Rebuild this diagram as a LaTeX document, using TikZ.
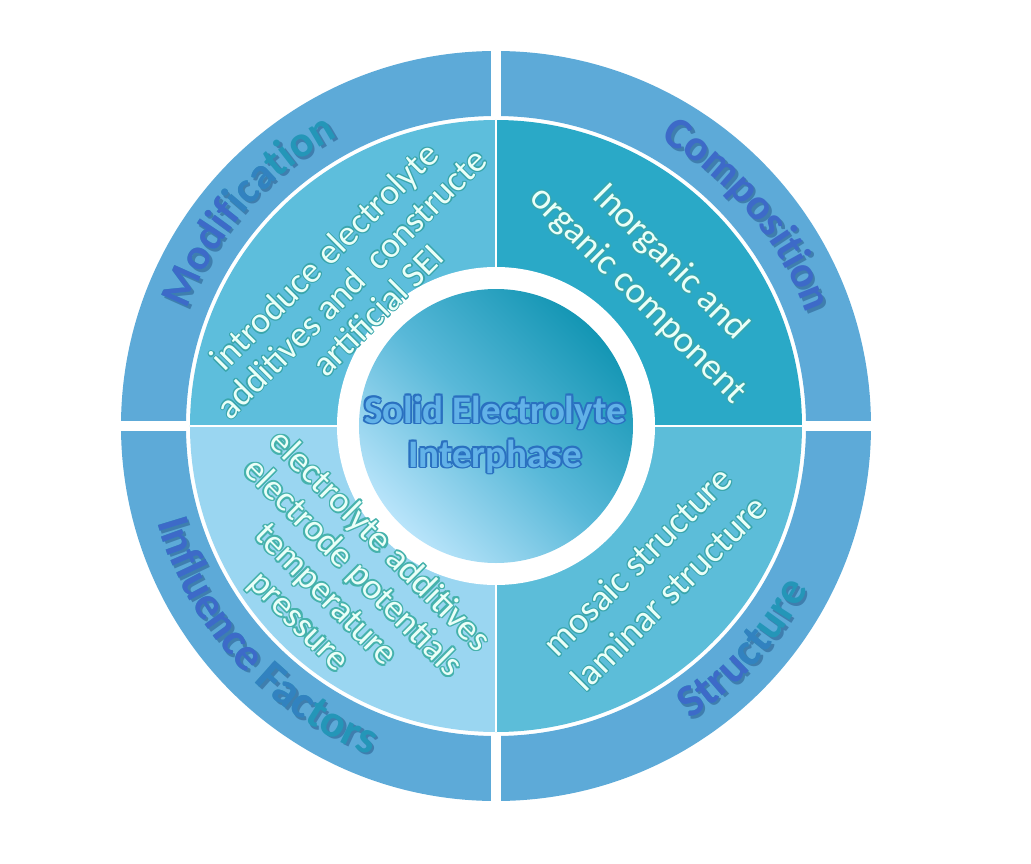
\documentclass[tikz,border=0pt]{standalone}
\usepackage{fontspec}
\setmainfont{Carlito}
\usetikzlibrary{decorations.text}
\definecolor{ringc}{HTML}{5DAAD8}
\definecolor{qtl}{HTML}{5DBEDC}
\definecolor{qtr}{HTML}{2AA9C7}
\definecolor{qbr}{HTML}{5CBDD9}
\definecolor{qbl}{HTML}{9AD6F1}
\definecolor{gdark}{HTML}{1496B4}
\definecolor{gmid}{HTML}{58B8D8}
\definecolor{glight}{HTML}{B8E4FA}
\definecolor{cblue}{HTML}{3D6AC8}
\definecolor{cmid}{HTML}{3282C0}
\definecolor{cteal}{HTML}{2496B8}
\definecolor{shadowc}{HTML}{3F7EAE}
\definecolor{itfill}{HTML}{EAFFF8}
\definecolor{itline}{HTML}{3AA6AC}
\definecolor{itlineb}{HTML}{45B2AC}
\definecolor{ctfill}{HTML}{62B2E8}
\definecolor{ctline}{HTML}{2A70C0}
\newcommand\ringfont{\fontsize{44}{44}\selectfont\bfseries}
\newcommand\ringfontb{\fontsize{46}{46}\selectfont\bfseries}
\tikzset{olab/.style={align=center, inner sep=0pt}}
\newcommand\olabel[7]{%
  \foreach \a in {0,45,...,315}{\node[olab,#3,text=#4,shift={(\a:#6)}] at #2 {#7};}
  \node[olab,#3,text=#5] (#1) at #2 {#7};}
% curved text: #1 font, #2 colour, #3 start angle, #4 end angle, #5 radius, #6 text
\newcommand\ctext[6]{\path[decorate, decoration={text along path, text align=center, text={|#1\color{#2}|#6}}] (#3:#5) arc[start angle=#3,end angle=#4,radius=#5];}
\newcommand\sector[2]{\clip (0,0) -- (#1:420) arc[start angle=#1,end angle=#2,radius=420] -- cycle;}
\begin{document}
\begin{tikzpicture}[x=1pt,y=1pt]
\useasboundingbox (-496,-437) rectangle (535,426);
\fill[white] (-496,-437) rectangle (535,426);
% outer ring
\fill[ringc, even odd rule] (0,0) circle[radius=375] (0,0) circle[radius=310];
\fill[white] (-5,-380) rectangle (5,380);
\fill[white] (-380,-5) rectangle (380,5);
% inner quadrants
\fill[qtr] (0,0) -- (306,0) arc[start angle=0,end angle=90,radius=306] -- cycle;
\fill[qtl] (0,0) -- (0,306) arc[start angle=90,end angle=180,radius=306] -- cycle;
\fill[qbl] (0,0) -- (-306,0) arc[start angle=180,end angle=270,radius=306] -- cycle;
\fill[qbr] (0,0) -- (0,-306) arc[start angle=270,end angle=360,radius=306] -- cycle;
\draw[white, line width=1.5] (0,-306) -- (0,306);
\draw[white, line width=1.5] (-306,0) -- (306,0);
% centre
\fill[white] (0,0) circle[radius=159];
\shade[top color=glight, bottom color=gdark, middle color=gmid, shading angle=135] (0,0) circle[radius=137];
% curved labels: shadows
\begin{scope}[shift={(2.5,-2.5)}]
\ctext{\ringfont}{shadowc}{182}{96}{330}{Modification}
\ctext{\ringfont}{shadowc}{85}{-5}{330}{Composition}
\ctext{\ringfontb}{shadowc}{177.5}{267.5}{352}{Influence Factors}
\ctext{\ringfontb}{shadowc}{-87}{3}{352}{Structure}
\end{scope}
% curved labels
\ctext{\ringfont}{cteal}{182}{96}{330}{Modification}
\begin{scope}\sector{140.3}{175}\ctext{\ringfont}{cblue}{182}{96}{330}{Modification}\end{scope}
\begin{scope}\sector{131.5}{140.3}\ctext{\ringfont}{cmid}{182}{96}{330}{Modification}\end{scope}
\ctext{\ringfont}{cblue}{85}{-5}{330}{Composition}
\ctext{\ringfontb}{cteal}{177.5}{267.5}{352}{Influence Factors}
\begin{scope}\sector{185}{226.5}\ctext{\ringfontb}{cblue}{177.5}{267.5}{352}{Influence Factors}\end{scope}
\begin{scope}\sector{226.5}{236.8}\ctext{\ringfontb}{cmid}{177.5}{267.5}{352}{Influence Factors}\end{scope}
\ctext{\ringfontb}{cteal}{-87}{3}{352}{Structure}
\begin{scope}\sector{-65}{-43.7}\ctext{\ringfontb}{cblue}{-87}{3}{352}{Structure}\end{scope}
\begin{scope}\sector{-43.7}{-38}\ctext{\ringfontb}{cmid}{-87}{3}{352}{Structure}\end{scope}
% inner texts
\olabel{tl}{(-145,143)}{rotate=45,font=\fontsize{36}{38}\selectfont}{itline}{itfill}{1.2}{introduce electrolyte\\additives and\ \ constructe\\artificial SEI}
\olabel{tr}{(158,147)}{rotate=-45,font=\fontsize{37}{46}\selectfont}{itline}{itfill}{1.2}{Inorganic and\\organic component}
\olabel{bl}{(-157,-156)}{rotate=-45,font=\fontsize{36}{38}\selectfont}{itlineb}{itfill}{1.7}{electrolyte additives\\electrode potentials\\temperature\\pressure}
\olabel{br}{(157,-151)}{rotate=45,font=\fontsize{37}{45}\selectfont}{itline}{itfill}{1.2}{mosaic structure\\laminar structure}
% centre text
\olabel{sol}{(-1,3)}{anchor=base,font=\fontsize{39}{44}\selectfont\bfseries}{ctline}{ctfill}{1.8}{Solid Electrolyte}
\olabel{int}{(-1,-41)}{anchor=base,font=\fontsize{39}{44}\selectfont\bfseries}{ctline}{ctfill}{1.8}{Interphase}
\end{tikzpicture}
\end{document}
